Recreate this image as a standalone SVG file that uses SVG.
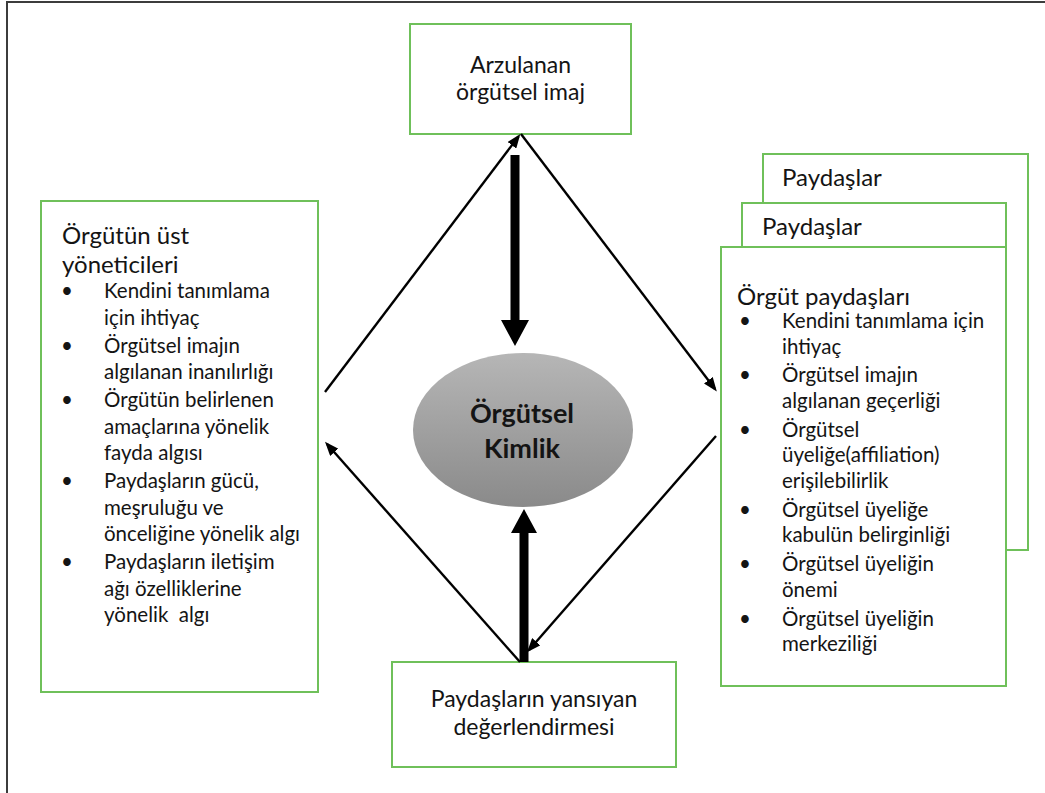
<svg xmlns="http://www.w3.org/2000/svg" width="1045" height="793" viewBox="0 0 1045 793">
<defs>
<style>
.box{fill:#fff;stroke:#6fc05a;stroke-width:2}
.t{font-family:Lato,"Liberation Sans",sans-serif;fill:#141414}
.b{font-size:20.5px}
.h{font-size:24px}
.c{font-size:23px;text-anchor:middle}
.e{font-size:27px;font-weight:bold;text-anchor:middle}
.ln{stroke:#000;stroke-width:2.4;fill:none;marker-end:url(#ah)}
.thick{fill:#000}
</style>
<marker id="ah" markerWidth="14" markerHeight="11" refX="11" refY="5.5" orient="auto" markerUnits="userSpaceOnUse">
<path d="M0,0 L14,5.5 L0,11 z" fill="#000"/>
</marker>
<linearGradient id="eg" x1="0" y1="0" x2="0" y2="1">
<stop offset="0" stop-color="#b6b6b6"/>
<stop offset="1" stop-color="#8a8a8a"/>
</linearGradient>
</defs>
<rect width="1045" height="793" fill="#fff"/>
<path d="M7,793 V2 H1045" fill="none" stroke="#3c3c3c" stroke-width="2"/>

<g id="top-node">
<rect class="box" x="410" y="24" width="221" height="110"/>
<text class="t c" x="520.5" y="73">Arzulanan</text>
<text class="t c" x="520.5" y="100">örgütsel imaj</text>
</g>

<g id="left-node">
<rect class="box" x="41" y="201" width="277" height="491"/>
<text class="t h" x="62" y="244">Örgütün üst</text>
<text class="t h" x="62" y="273">yöneticileri</text>
<g class="t b">
<text x="61" y="298">•</text><text x="104" y="298">Kendini tanımlama</text>
<text x="104" y="324.5">için ihtiyaç</text>
<text x="61" y="352.5">•</text><text x="104" y="352.5">Örgütsel imajın</text>
<text x="104" y="379">algılanan inanılırlığı</text>
<text x="61" y="407">•</text><text x="104" y="407">Örgütün belirlenen</text>
<text x="104" y="433.5">amaçlarına yönelik</text>
<text x="104" y="460">fayda algısı</text>
<text x="61" y="488">•</text><text x="104" y="488">Paydaşların gücü,</text>
<text x="104" y="514.5">meşruluğu ve</text>
<text x="104" y="541">önceliğine yönelik algı</text>
<text x="61" y="569">•</text><text x="104" y="569">Paydaşların iletişim</text>
<text x="104" y="595.5">ağı özelliklerine</text>
<text x="104" y="622" xml:space="preserve">yönelik  algı</text>
</g>
</g>

<g id="right-back-node">
<rect class="box" x="763" y="154" width="265" height="396"/>
<text class="t h" x="782" y="186">Paydaşlar</text>
</g>
<g id="right-middle-node">
<rect class="box" x="742" y="203" width="264" height="300"/>
<text class="t h" x="762" y="235">Paydaşlar</text>
</g>
<g id="right-node">
<rect class="box" x="721" y="247" width="285" height="439"/>
<text class="t h" x="737" y="305">Örgüt paydaşları</text>
<g class="t b">
<text x="739" y="328">•</text><text x="782" y="328">Kendini tanımlama için</text>
<text x="782" y="353.5">ihtiyaç</text>
<text x="739" y="382">•</text><text x="782" y="382">Örgütsel imajın</text>
<text x="782" y="407.5">algılanan geçerliği</text>
<text x="739" y="436.5">•</text><text x="782" y="436.5">Örgütsel</text>
<text x="782" y="462">üyeliğe(affiliation)</text>
<text x="782" y="487.5">erişilebilirlik</text>
<text x="739" y="516.5">•</text><text x="782" y="516.5">Örgütsel üyeliğe</text>
<text x="782" y="542">kabulün belirginliği</text>
<text x="739" y="571">•</text><text x="782" y="571">Örgütsel üyeliğin</text>
<text x="782" y="596.5">önemi</text>
<text x="739" y="625.5">•</text><text x="782" y="625.5">Örgütsel üyeliğin</text>
<text x="782" y="651">merkeziliği</text>
</g>
</g>

<g id="center-node">
<ellipse cx="523" cy="430" rx="110" ry="77" fill="url(#eg)"/>
<text class="t e" x="522" y="423">Örgütsel</text>
<text class="t e" x="522" y="458">Kimlik</text>
</g>

<g id="bottom-node">
<rect class="box" x="392" y="662" width="284" height="105"/>
<text class="t c" x="534" y="707">Paydaşların yansıyan</text>
<text class="t c" x="534" y="735">değerlendirmesi</text>
</g>

<g id="connectors">
<line class="ln" x1="325" y1="392" x2="518.5" y2="136.5"/>
<line class="ln" x1="521" y1="134" x2="715" y2="389"/>
<line class="ln" x1="716" y1="436" x2="529" y2="650"/>
<line class="ln" x1="520" y1="662" x2="327" y2="444"/>
<polygon class="thick" points="510.5,155 519.5,155 519.5,320 529,320 515,346 501,320 510.5,320"/>
<polygon class="thick" points="519.5,662 528.5,662 528.5,533 537,533 524,509 511,533 519.5,533"/>
</g>
</svg>
